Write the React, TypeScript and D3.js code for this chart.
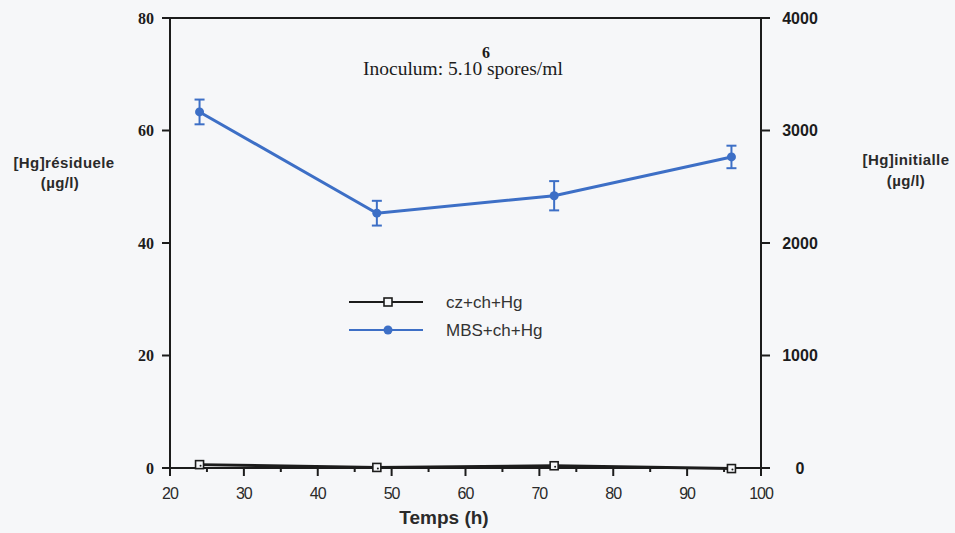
import React from "react";
import * as d3 from "d3";

// Sampling times (h)
const times = [24, 48, 72, 96];
// cz+ch+Hg residual Hg (µg/l)
const czValues = [0.6, 0.1, 0.4, -0.1];
// MBS+ch+Hg residual Hg (µg/l) with standard deviation
const mbsValues = [63.3, 45.3, 48.4, 55.3];
const mbsErrors = [2.2, 2.2, 2.6, 2.0];

const xTicks = [20, 30, 40, 50, 60, 70, 80, 90, 100];
const xMinorTicks = [25, 35, 45, 55, 65, 75, 85, 95];
const leftTicks = [0, 20, 40, 60, 80];
const rightTicks = [0, 1000, 2000, 3000, 4000];

const legendLabels = ["cz+ch+Hg", "MBS+ch+Hg"];

const W = 955;
const H = 533;
const BG = "#f6f7f9";
const BLUE = "#3d6fc6";
const INK = "#1c1c1c";

export default function App() {
  const x = d3.scaleLinear().domain([20, 100]).range([170, 761]);
  const yL = d3.scaleLinear().domain([0, 80]).range([468, 18]);
  const yR = d3.scaleLinear().domain([0, 4000]).range([468, 18]);

  const line = d3
    .line<number>()
    .x((_, i) => x(times[i]))
    .y((v) => yL(v));

  const sans = "Liberation Sans, Arial, sans-serif";
  const serif = "Liberation Serif, Times New Roman, serif";

  return (
    <svg
      width={W}
      height={H}
      style={{ position: "absolute", left: 0, top: 0, background: BG }}
    >
      <rect x={0} y={0} width={W} height={H} fill={BG} />

      {/* frame: top, left axis, right axis, bottom axis */}
      <line x1={162} x2={x(100)} y1={yL(80)} y2={yL(80)} stroke={INK} strokeWidth={2} />
      <line x1={x(20)} x2={x(20)} y1={yL(80)} y2={yL(0) + 8} stroke={INK} strokeWidth={2} />
      <line x1={x(100)} x2={x(100)} y1={yL(80)} y2={yL(0) + 8} stroke={INK} strokeWidth={2} />
      <line x1={162} x2={769} y1={yL(0)} y2={yL(0)} stroke={INK} strokeWidth={2} />

      {/* left axis */}
      {leftTicks.map((t) => (
        <g key={"l" + t}>
          <line x1={162} x2={x(20)} y1={yL(t)} y2={yL(t)} stroke={INK} strokeWidth={2} />
          <text
            x={154}
            y={yL(t)}
            textAnchor="end"
            dominantBaseline="central"
            fontFamily={serif}
            fontWeight="bold"
            fontSize={16}
            fill={INK}
          >
            {t}
          </text>
        </g>
      ))}

      {/* right axis */}
      {rightTicks.map((t) => (
        <g key={"r" + t}>
          <line x1={x(100)} x2={770} y1={yR(t)} y2={yR(t)} stroke={INK} strokeWidth={2} />
          <text
            x={800}
            y={yR(t)}
            textAnchor="middle"
            dominantBaseline="central"
            fontFamily={sans}
            fontWeight="bold"
            fontSize={16}
            fill={INK}
          >
            {t}
          </text>
        </g>
      ))}

      {/* bottom axis */}
      {xTicks.map((t) => (
        <g key={"x" + t}>
          <line x1={x(t)} x2={x(t)} y1={yL(0)} y2={yL(0) + 8} stroke={INK} strokeWidth={2} />
          <text
            x={x(t)}
            y={493}
            textAnchor="middle"
            dominantBaseline="central"
            fontFamily={sans}
            fontSize={16}
            letterSpacing={-1}
            fill="#2a2a2a"
          >
            {t}
          </text>
        </g>
      ))}
      {xMinorTicks.map((t) => (
        <line key={"m" + t} x1={x(t)} x2={x(t)} y1={yL(0)} y2={yL(0) + 4} stroke={INK} strokeWidth={2} />
      ))}

      {/* axis titles */}
      <text x={444} y={517} textAnchor="middle" dominantBaseline="central" fontFamily={sans} fontWeight="bold" fontSize={19} fill="#2a2a2a">
        Temps (h)
      </text>
      <g fontFamily={sans} fontWeight="bold" fontSize={15} letterSpacing={0.4} fill="#2a2a2a" textAnchor="middle">
        <text x={64} y={162} dominantBaseline="central">[Hg]résiduele</text>
        <text x={60} y={182} dominantBaseline="central">(µg/l)</text>
        <text x={906} y={159} dominantBaseline="central">[Hg]initialle</text>
        <text x={906} y={180} dominantBaseline="central">(µg/l)</text>
      </g>

      {/* inoculum note */}
      <text x={363} y={75} fontFamily={serif} fontSize={19.5} fill={INK}>
        Inoculum: 5.10
      </text>
      <text x={487} y={75} fontFamily={serif} fontSize={19.5} fill={INK}>
        spores/ml
      </text>
      <text x={486} y={58} textAnchor="middle" fontFamily={serif} fontWeight="bold" fontSize={16} fill={INK}>
        6
      </text>

      {/* cz+ch+Hg series */}
      <path d={line(czValues) || ""} fill="none" stroke={INK} strokeWidth={3} />
      {czValues.map((v, i) => (
        <g key={"cz" + i}>
          <rect x={x(times[i]) - 4} y={yL(v) - 4} width={8} height={8} fill={BG} stroke={INK} strokeWidth={1.6} />
          <circle cx={x(times[i]) + 1} cy={yL(v) + 1} r={1} fill={INK} />
        </g>
      ))}

      {/* MBS+ch+Hg series with error bars */}
      <path d={line(mbsValues) || ""} fill="none" stroke={BLUE} strokeWidth={3} />
      {mbsValues.map((v, i) => {
        const cx = x(times[i]);
        const top = yL(v + mbsErrors[i]);
        const bot = yL(v - mbsErrors[i]);
        return (
          <g key={"mbs" + i} stroke={BLUE} strokeWidth={2}>
            <line x1={cx} x2={cx} y1={top} y2={bot} />
            <line x1={cx - 5} x2={cx + 5} y1={top} y2={top} />
            <line x1={cx - 5} x2={cx + 5} y1={bot} y2={bot} />
            <circle cx={cx} cy={yL(v)} r={4.5} fill={BLUE} stroke="none" />
          </g>
        );
      })}

      {/* legend */}
      <line x1={349} x2={423} y1={302} y2={302} stroke={INK} strokeWidth={2} />
      <rect x={384} y={298} width={8} height={8} fill={BG} stroke={INK} strokeWidth={1.6} />
      <line x1={349} x2={423} y1={330} y2={330} stroke={BLUE} strokeWidth={2} />
      <circle cx={388} cy={330} r={4.5} fill={BLUE} />
      <g fontFamily={sans} fontSize={17} fill="#333">
        <text x={446} y={302} dominantBaseline="central">{legendLabels[0]}</text>
        <text x={446} y={330} dominantBaseline="central">{legendLabels[1]}</text>
      </g>
    </svg>
  );
}
